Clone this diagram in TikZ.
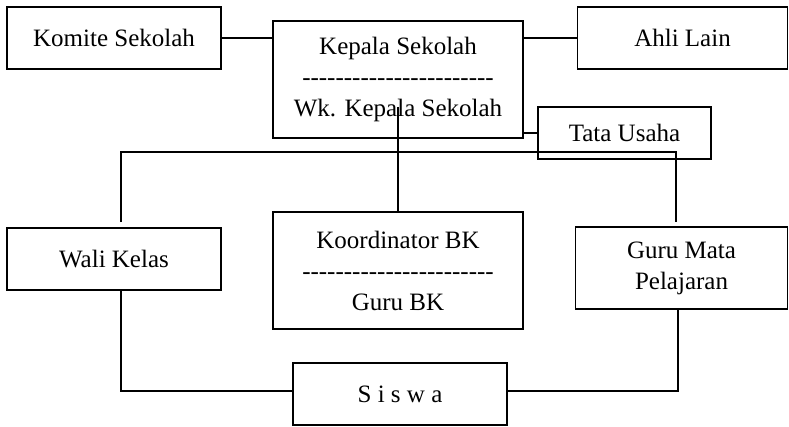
\documentclass[tikz,border=0pt]{standalone}
\usepackage{fontspec}
\setmainfont{Liberation Serif}
\usepackage{tikz}
\usetikzlibrary{positioning}

\newcommand{\garis}{\foreach \i in {1,...,23}{\mbox{-}}}

\begin{document}
\begin{tikzpicture}[
    x=1pt, y=-1pt, % pixel-like grid, y pointing down
    node font=\fontsize{25}{31}\selectfont,
    box/.style={draw=black, line width=1.8pt, fill=white, inner sep=0pt, align=center},
    link/.style={line width=1.6pt}
]
  \useasboundingbox (0,0) rectangle (789,426);

  % --- TOP ROW ---
  \node[box, minimum width=214pt, minimum height=62pt] (komite) at (114,38) {Komite Sekolah};
  \node[box, minimum width=250pt, minimum height=117pt] (kepala) at (398,79.5)
    {Kepala Sekolah\\\garis\\Wk. Kepala Sekolah};
  \node[box, minimum width=210pt, minimum height=62pt] (ahli) at (682.5,38) {Ahli Lain};
  \node[box, minimum width=173pt, minimum height=52pt] (tata) at (624.5,133) {Tata Usaha};

  % --- MIDDLE ROW ---
  \node[box, minimum width=214pt, minimum height=62pt] (wali) at (114,259) {Wali Kelas};
  \node[box, minimum width=250pt, minimum height=117pt] (koor) at (398,270.5)
    {Koordinator BK\\\garis\\Guru BK};
  \node[box, minimum width=212pt, minimum height=82pt] (guru) at (681.5,268) {Guru Mata\\Pelajaran};

  % --- BOTTOM ---
  \node[box, minimum width=214pt, minimum height=62pt] (siswa) at (400,394) {S i s w a};

  % Connections
  \coordinate (bar) at (398,152);
  \draw[link] (komite.east) -- (komite.east -| kepala.west);
  \draw[link] (ahli.west -| kepala.east) -- (ahli.west);
  \draw[link] (tata.west -| kepala.east) -- (tata.west);
  \draw[link] ([yshift=32pt]kepala.south) -- (koor.north);
  \draw[link] ([xshift=7pt,yshift=5pt]wali.north) -- ([xshift=7pt]wali.north |- bar)
    -- ([xshift=-5.5pt]guru.north |- bar) -- ([xshift=-5.5pt,yshift=4pt]guru.north);
  \draw[link] ([xshift=7pt]wali.south) |- ([yshift=3pt]siswa.west);
  \draw[link] ([xshift=-3.5pt]guru.south) |- ([yshift=3pt]siswa.east);

\end{tikzpicture}
\end{document}
